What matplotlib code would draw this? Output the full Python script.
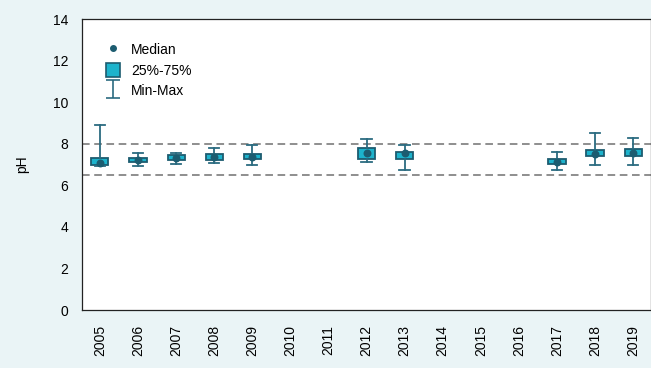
import matplotlib
matplotlib.use('Agg')
import matplotlib.pyplot as plt
from matplotlib.lines import Line2D
from matplotlib.patches import Patch
from matplotlib.path import Path

plt.rcParams['font.family'] = ['Liberation Sans', 'DejaVu Sans']

# years on the axis, and the stats for the years that have data
years = ['2005', '2006', '2007', '2008', '2009', '2010', '2011', '2012',
         '2013', '2014', '2015', '2016', '2017', '2018', '2019']
data_years = ['2005', '2006', '2007', '2008', '2009', '2012', '2013', '2017', '2018', '2019']
ph_min = [6.95, 6.92, 7.03, 7.08, 7.00, 7.13, 6.73, 6.76, 7.00, 6.96]
ph_q1 = [7.00, 7.13, 7.21, 7.21, 7.25, 7.29, 7.26, 7.05, 7.39, 7.42]
ph_med = [7.06, 7.24, 7.34, 7.37, 7.37, 7.55, 7.55, 7.14, 7.49, 7.55]
ph_q3 = [7.30, 7.34, 7.45, 7.49, 7.49, 7.80, 7.61, 7.27, 7.68, 7.74]
ph_max = [8.90, 7.56, 7.58, 7.80, 7.92, 8.25, 7.93, 7.61, 8.51, 8.29]
limit_low = 6.5
limit_high = 8.0

fill = '#1DB3CC'
edge = '#1C5C70'
whisk = '#2B6B80'
fs = 10

fig = plt.figure(figsize=(6.51, 3.68), dpi=100)
fig.patch.set_facecolor('#EAF4F6')
ax = fig.add_axes([0.126, 0.1576, 0.874, 0.7904])
ax.set_facecolor('white')

pos = [years.index(y) for y in data_years]
stats = []
for i in range(len(data_years)):
    stats.append({'whislo': ph_min[i], 'q1': ph_q1[i], 'med': ph_med[i],
                  'q3': ph_q3[i], 'whishi': ph_max[i]})

ax.bxp(stats, positions=pos, widths=0.45, patch_artist=True, showfliers=False,
       capwidths=0.27,
       boxprops=dict(facecolor=fill, edgecolor=edge, linewidth=1.3),
       whiskerprops=dict(color=whisk, linewidth=1.3),
       capprops=dict(color=whisk, linewidth=1.3),
       medianprops=dict(linestyle='none'))
ax.scatter(pos, ph_med, s=22, color=edge, zorder=5)

ax.axhline(limit_high, color='#707070', linestyle=(0, (5, 3)), linewidth=1.1, zorder=0)
ax.axhline(limit_low, color='#707070', linestyle=(0, (5, 3)), linewidth=1.1, zorder=0)

ax.set_xticks(range(len(years)))
ax.set_xticklabels(years, rotation=90)
ax.set_xlim(-0.47, 14.47)
ax.set_ylim(0, 14)
ax.set_yticks(range(0, 15, 2))
ax.tick_params(axis='both', length=0, labelsize=fs)
ax.tick_params(axis='x', pad=11)
ax.tick_params(axis='y', pad=10)
ax.set_ylabel('pH', fontsize=fs, labelpad=17)
for s in ax.spines.values():
    s.set_color('#222222')
    s.set_linewidth(0.9)

ibeam = Path([(-0.38, 0.5), (0.38, 0.5), (0, 0.5), (0, -0.5), (-0.38, -0.5), (0.38, -0.5)],
             [Path.MOVETO, Path.LINETO, Path.MOVETO, Path.LINETO, Path.MOVETO, Path.LINETO])
handles = [
    Line2D([], [], linestyle='none', marker='o', markersize=4, color=edge),
    Patch(facecolor=fill, edgecolor=edge, linewidth=1.2),
    Line2D([], [], linestyle='none', marker=ibeam, markersize=12.5,
           markerfacecolor='none', markeredgecolor=whisk, markeredgewidth=1.2),
]
ax.legend(handles, ['Median', '25%-75%', 'Min-Max'], loc='upper left',
          bbox_to_anchor=(0.032, 0.94), frameon=False, fontsize=fs,
          handletextpad=0.8, labelspacing=0.4, handlelength=1.0, handleheight=1.25,
          borderaxespad=0)

fig.savefig('out.png', dpi=100, facecolor=fig.get_facecolor())
